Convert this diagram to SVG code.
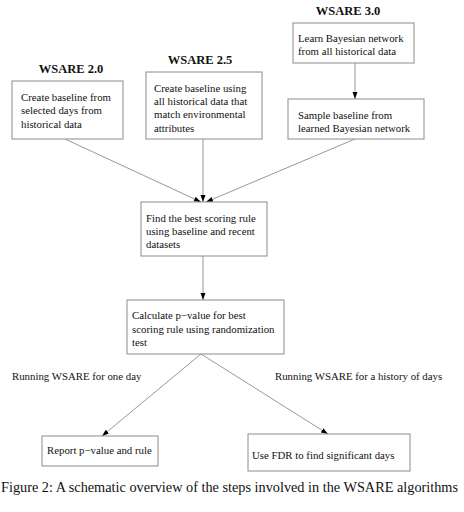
<svg xmlns="http://www.w3.org/2000/svg" width="464" height="512" viewBox="0 0 464 512">
<defs>
<style>
.box{fill:#fff;stroke:#8c8c8c;stroke-width:1}
.t{font-family:"Liberation Serif","Times New Roman",serif;font-size:10.8px;fill:#111}
.h{font-family:"Liberation Serif","Times New Roman",serif;font-size:12.5px;font-weight:bold;fill:#111}
.e{stroke:#8c8c8c;stroke-width:0.9;fill:none;marker-end:url(#ah)}
.cap{font-family:"Liberation Serif","Times New Roman",serif;font-size:14px;fill:#111}
</style>
<marker id="ah" viewBox="0 0 10 10" refX="10" refY="5" markerWidth="7" markerHeight="7" markerUnits="userSpaceOnUse" orient="auto">
<path d="M0,1.5 L10,5 L0,8.5 z" fill="#000"/>
</marker>
</defs>
<rect width="464" height="512" fill="#fff"/>
<g id="connectors">
<line class="e" x1="65" y1="139" x2="201" y2="202"/>
<line class="e" x1="203" y1="139" x2="203" y2="202"/>
<line class="e" x1="355" y1="139" x2="206" y2="202"/>
<line class="e" x1="355" y1="63" x2="355" y2="99"/>
<line class="e" x1="203" y1="256" x2="203" y2="300"/>
<line class="e" x1="201" y1="354" x2="102" y2="436"/>
<line class="e" x1="201" y1="354" x2="328" y2="434"/>
</g>
<g id="label-one-day"><text class="t" x="12" y="380">Running WSARE for one day</text></g>
<g id="label-history"><text class="t" x="275" y="380">Running WSARE for a history of days</text></g>
<g id="wsare20">
<text class="h" x="71" y="73" text-anchor="middle">WSARE 2.0</text>
<rect class="box" x="12" y="81" width="111" height="58"/>
<text class="t" x="21" y="101">Create baseline from</text>
<text class="t" x="21" y="114">selected days from</text>
<text class="t" x="21" y="128">historical data</text>
</g>
<g id="wsare25">
<text class="h" x="200" y="64" text-anchor="middle">WSARE 2.5</text>
<rect class="box" x="146" y="72" width="116" height="67"/>
<text class="t" x="154" y="92">Create baseline using</text>
<text class="t" x="154" y="105">all historical data that</text>
<text class="t" x="154" y="118">match environmental</text>
<text class="t" x="154" y="132">attributes</text>
</g>
<g id="wsare30">
<text class="h" x="348" y="15" text-anchor="middle">WSARE 3.0</text>
<rect class="box" x="293" y="23" width="121" height="40"/>
<text class="t" x="298" y="42">Learn Bayesian network</text>
<text class="t" x="298" y="55">from all historical data</text>
</g>
<g id="sample">
<rect class="box" x="288" y="99" width="136" height="40"/>
<text class="t" x="298" y="119">Sample baseline from</text>
<text class="t" x="298" y="132">learned Bayesian network</text>
</g>
<g id="find">
<rect class="box" x="141" y="202" width="126" height="54"/>
<text class="t" x="146" y="222">Find the best scoring rule</text>
<text class="t" x="146" y="235">using baseline and recent</text>
<text class="t" x="146" y="248">datasets</text>
</g>
<g id="calc">
<rect class="box" x="127" y="300" width="157" height="54"/>
<text class="t" x="132" y="319">Calculate p−value for best</text>
<text class="t" x="132" y="333">scoring rule using randomization</text>
<text class="t" x="132" y="346">test</text>
</g>
<g id="report">
<rect class="box" x="42" y="436" width="116" height="30"/>
<text class="t" x="47" y="454">Report p−value and rule</text>
</g>
<g id="fdr">
<rect class="box" x="248" y="434" width="162" height="37"/>
<text class="t" x="252" y="459">Use FDR to find significant days</text>
</g>
<text class="cap" x="1" y="492" textLength="457" lengthAdjust="spacingAndGlyphs">Figure 2: A schematic overview of the steps involved in the WSARE algorithms</text>
</svg>
